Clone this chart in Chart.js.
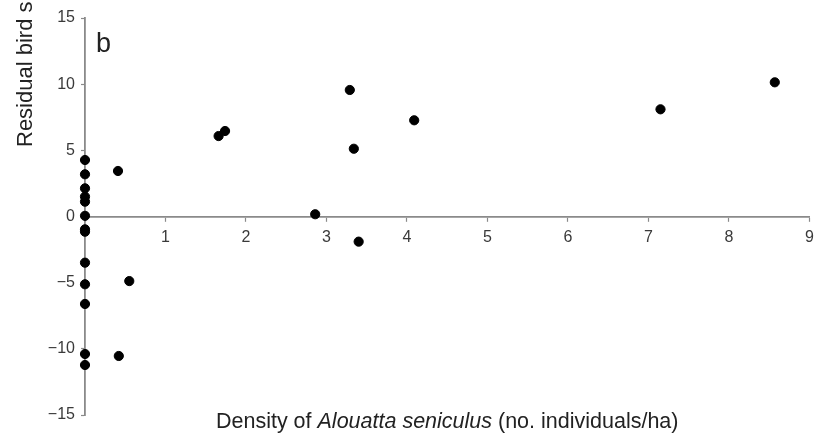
<!DOCTYPE html>
<html>
<head>
<meta charset="utf-8">
<script src="https://cdn.jsdelivr.net/npm/chart.js@4/dist/chart.umd.min.js"></script>
<style>
  html, body { margin: 0; padding: 0; background: #fff; }
  #wrap { width: 815px; height: 434px; }
</style>
</head>
<body>
<div id="wrap"><canvas id="c" width="815" height="434"></canvas></div>
<script>
(() => {
    'use strict';

    // ===== Datos =====
    const densidad = [
        0, 0, 0, 0, 0, 0, 0, 0, 0, 0, 0, 0, 0,
        0.41, 0.55, 0.42, 1.66, 1.74, 2.86, 3.29, 3.34, 3.40, 4.09, 7.15, 8.57
    ];
    const residual = [
        4.27, 3.19, 2.13, 1.50, 1.12, 0.05, -0.97, -1.15, -3.49, -5.12, -6.61, -10.39, -11.22,
        3.44, -4.88, -10.54, 6.08, 6.46, 0.17, 9.56, 5.12, -1.90, 7.27, 8.10, 10.14
    ];
    const xTicks = [0, 1, 2, 3, 4, 5, 6, 7, 8, 9];
    const yTicks = [-15, -10, -5, 0, 5, 10, 15];

    const panelLabel = 'b';
    const yTitle = 'Residual bird species richness';
    const xTitleParts = [
        { text: 'Density of ', italic: false },
        { text: 'Alouatta seniculus', italic: true },
        { text: ' (no. individuals/ha)', italic: false }
    ];

    const FONT = '"Liberation Sans", Arial, Helvetica, sans-serif';
    const AXIS = '#8a8a8a';
    const TXT = '#3a3a3a';
    const minus = (v) => (v < 0 ? '\u2212' + Math.abs(v) : String(v));

    // ===== Textos fuera del área (título ejes, letra del panel) =====
    const textPlugin = {
        id: 'textos',
        afterDraw(chart) {
            const ctx = chart.ctx;
            const area = chart.chartArea;
            ctx.save();
            ctx.fillStyle = '#222';
            ctx.textBaseline = 'alphabetic';

            // título eje X con parte en cursiva
            const size = 21.5;
            let total = 0;
            for (const p of xTitleParts) {
                ctx.font = (p.italic ? 'italic ' : '') + size + 'px ' + FONT;
                total += ctx.measureText(p.text).width;
            }
            let x = (area.left + area.right) / 2 - total / 2;
            for (const p of xTitleParts) {
                ctx.font = (p.italic ? 'italic ' : '') + size + 'px ' + FONT;
                ctx.textAlign = 'left';
                ctx.fillText(p.text, x, 428);
                x += ctx.measureText(p.text).width;
            }

            // título eje Y (cortado arriba, como en la figura)
            ctx.font = '22px ' + FONT;
            ctx.translate(32, 147);
            ctx.rotate(-Math.PI / 2);
            ctx.textAlign = 'left';
            ctx.fillText(yTitle, 0, 0);
            ctx.restore();

            // letra del panel
            ctx.save();
            ctx.fillStyle = '#222';
            ctx.font = '27px ' + FONT;
            ctx.textAlign = 'left';
            ctx.fillText(panelLabel, 96, 52);
            ctx.restore();
        }
    };

    const puntos = densidad.map((d, i) => ({ x: d, y: residual[i] }));

    new Chart(document.getElementById('c').getContext('2d'), {
        type: 'scatter',
        data: {
            datasets: [{
                data: puntos,
                backgroundColor: '#000',
                borderColor: '#000',
                pointRadius: 4.6,
                pointHoverRadius: 4.6,
                clip: false
            }]
        },
        options: {
            responsive: false,
            animation: false,
            events: [],
            layout: { padding: { left: 0, right: 5, top: 18, bottom: 19 } },
            plugins: { legend: { display: false }, tooltip: { enabled: false } },
            scales: {
                x: {
                    type: 'linear',
                    position: { y: 0 },
                    min: xTicks[0],
                    max: xTicks[xTicks.length - 1],
                    afterBuildTicks: (s) => { s.ticks = xTicks.map(v => ({ value: v })); },
                    afterFit: (s) => { s.height = 0; s.paddingRight = 0; s.paddingLeft = 0; },
                    grid: { display: true, drawOnChartArea: false, drawTicks: true, tickLength: 4, tickColor: AXIS, tickWidth: 1.2 },
                    border: { display: true, color: AXIS, width: 1.8 },
                    ticks: {
                        padding: 7,
                        color: TXT,
                        font: { family: FONT, size: 16 },
                        maxRotation: 0,
                        autoSkip: false,
                        callback: (v) => (v === 0 ? '' : String(v))
                    }
                },
                y: {
                    type: 'linear',
                    position: 'left',
                    min: yTicks[0],
                    max: yTicks[yTicks.length - 1],
                    afterBuildTicks: (s) => { s.ticks = yTicks.map(v => ({ value: v })); },
                    afterFit: (s) => { s.width = 85; },
                    grid: { display: true, drawOnChartArea: false, drawTicks: true, tickLength: 4, tickColor: AXIS, tickWidth: 1.2 },
                    border: { display: true, color: AXIS, width: 1.8 },
                    ticks: {
                        padding: 6,
                        color: TXT,
                        font: { family: FONT, size: 16 },
                        autoSkip: false,
                        callback: (v) => minus(v)
                    }
                }
            }
        },
        plugins: [textPlugin]
    });
})();
</script>
</body>
</html>
